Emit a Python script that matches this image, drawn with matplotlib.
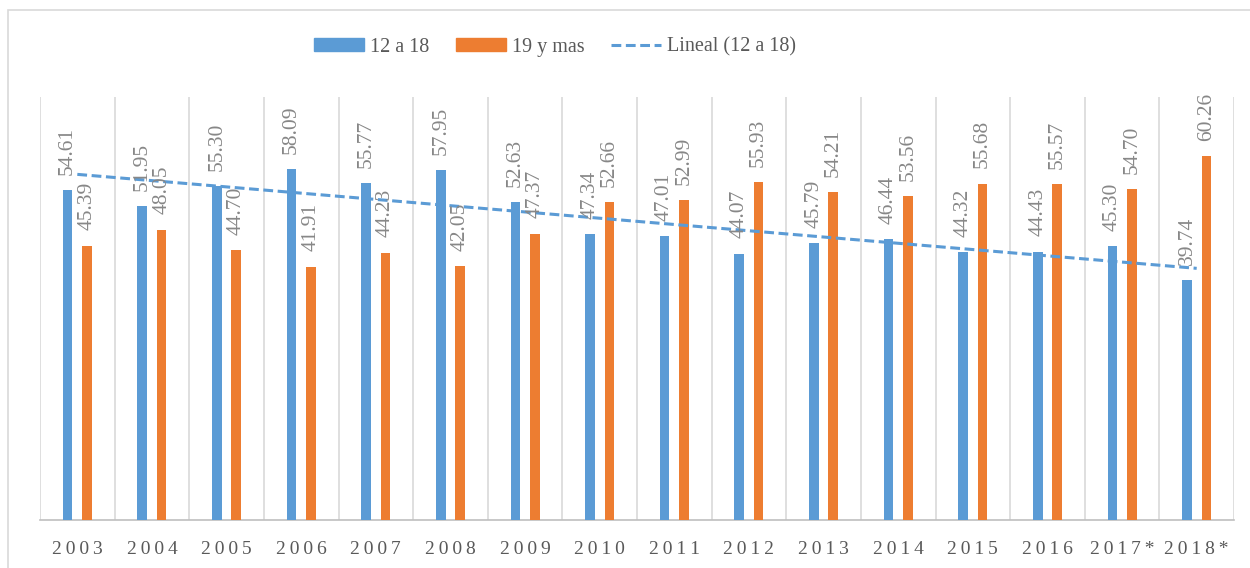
import matplotlib.pyplot as plt
import numpy as np
from matplotlib.patches import Rectangle
from matplotlib.lines import Line2D
from matplotlib.patches import Patch

plt.rcParams['font.family'] = ['Liberation Serif', 'DejaVu Serif']

years = ['2003', '2004', '2005', '2006', '2007', '2008', '2009', '2010',
         '2011', '2012', '2013', '2014', '2015', '2016', '2017*', '2018*']
g_12a18 = [54.61, 51.95, 55.30, 58.09, 55.77, 57.95, 52.63, 47.34,
           47.01, 44.07, 45.79, 46.44, 44.32, 44.43, 45.30, 39.74]
g_19mas = [45.39, 48.05, 44.70, 41.91, 44.23, 42.05, 47.37, 52.66,
           52.99, 55.93, 54.21, 53.56, 55.68, 55.57, 54.70, 60.26]

BLUE = '#5B9BD5'
ORANGE = '#ED7D31'
LABEL = '#878787'
DASH = (0, (3.2, 1.5))

fig = plt.figure(figsize=(12.5, 5.68), dpi=100)
ax = fig.add_axes([40 / 1250, 1 - 520 / 568, 1194 / 1250, 423 / 568])

# marco exterior
fig.patches.append(Rectangle((8 / 1250, -0.05), 1.1, 1 - 10 / 568 + 0.05,
                             transform=fig.transFigure, fill=False,
                             edgecolor='#D9D9D9', linewidth=1.2))

x = np.arange(len(years))
w = 0.13
b1 = ax.bar(x - 0.13, g_12a18, w, color=BLUE, zorder=3)
b2 = ax.bar(x + 0.13, g_19mas, w, color=ORANGE, zorder=3)

# linea de tendencia (ajuste lineal como en Excel)
k, c = np.polyfit(x, g_12a18, 1)
ax.plot(x, k * x + c, color=BLUE, linestyle=DASH, linewidth=2.2, zorder=4)

for bars, vals in ((b1, g_12a18), (b2, g_19mas)):
    for r, v in zip(bars, vals):
        ax.annotate(f'{v:.2f}', (r.get_x() + r.get_width() / 2, v),
                    xytext=(0, 11), textcoords='offset points',
                    rotation=90, ha='center', va='bottom',
                    fontsize=15.5, color=LABEL, zorder=5)

ax.set_xlim(-0.5, len(years) - 0.5)
ax.set_ylim(0, 70)
ax.set_yticks([])
for xb in np.arange(-0.5, len(years), 1):
    ax.axvline(xb, color='#D9D9D9', linewidth=1.2, zorder=1)

ax.set_xticks(x)
ax.set_xticklabels(['\u2009'.join(y) for y in years], fontsize=14, color='#595959')
ax.tick_params(axis='x', length=0, pad=15)
for s in ('top', 'left', 'right'):
    ax.spines[s].set_visible(False)
ax.spines['bottom'].set_color('#BFBFBF')
ax.spines['bottom'].set_linewidth(1.2)

handles = [Patch(color=BLUE), Patch(color=ORANGE),
           Line2D([], [], color=BLUE, linestyle=DASH, linewidth=2.2)]
fig.legend(handles, ['12 a 18', '19 y mas', 'Lineal (12 a 18)'],
           loc='center', bbox_to_anchor=(555 / 1250, 1 - 47 / 568), ncol=3,
           frameon=False, fontsize=14.5, handlelength=2.5, handleheight=0.6,
           columnspacing=1.3, handletextpad=0.3, labelcolor='#595959')

fig.savefig('out.png', dpi=100, facecolor='white')
